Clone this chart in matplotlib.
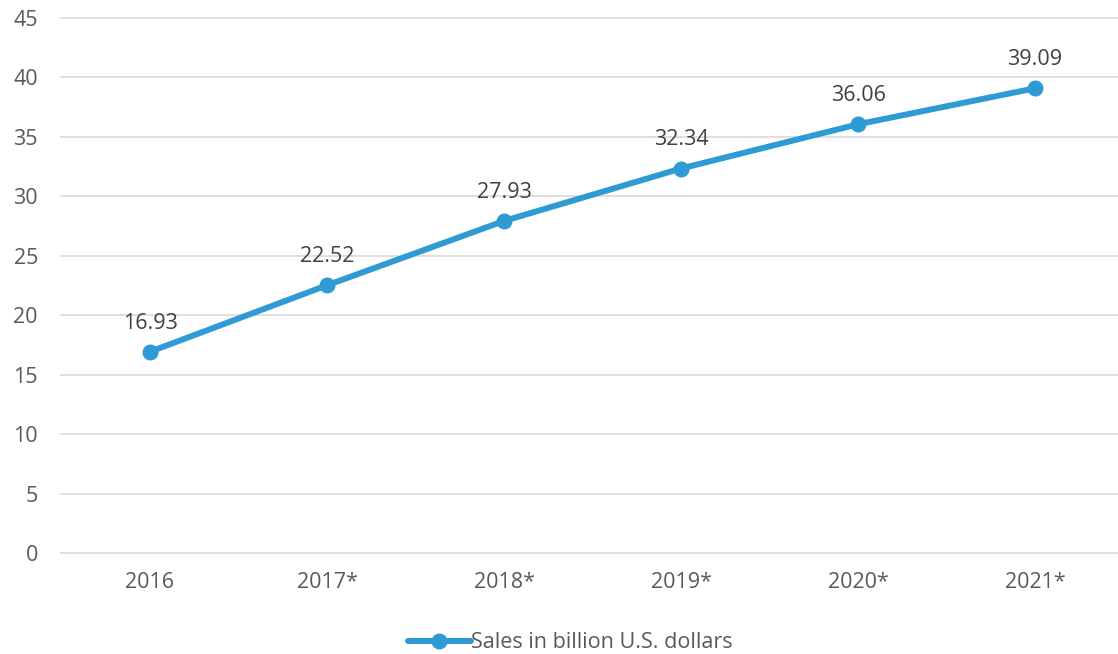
import matplotlib.pyplot as plt

years = ['2016', '2017*', '2018*', '2019*', '2020*', '2021*']
sales = [16.93, 22.52, 27.93, 32.34, 36.06, 39.09]
y_ticks = [0, 5, 10, 15, 20, 25, 30, 35, 40, 45]

plt.rcParams['font.family'] = ['Open Sans', 'DejaVu Sans']
text_color = '#595959'
label_color = '#404040'
line_color = '#2E9BD4'

fig = plt.figure(figsize=(11.18, 6.54), dpi=100)
ax = fig.add_axes([0.055, 0.1544, 0.95, 0.8181])

x = range(len(years))
ax.plot(x, sales, color=line_color, lw=4.3, marker='o', ms=10.5,
        label='Sales in billion U.S. dollars', solid_capstyle='round')

for xi, v in zip(x, sales):
    ax.annotate(f'{v:.2f}', (xi, v), xytext=(0, 13), textcoords='offset points',
                ha='center', va='bottom', fontsize=15.5, color=label_color)

ax.set_xlim(-0.5, len(years) - 0.5)
ax.set_ylim(0, 45)
ax.set_yticks(y_ticks)
ax.set_xticks(list(x))
ax.set_xticklabels(years)
ax.grid(axis='y', color='#d9d9d9', lw=1.2)
for gl in ax.get_ygridlines():
    gl.set_clip_on(False)
ax.set_axisbelow(True)
for s in ax.spines.values():
    s.set_visible(False)
ax.tick_params(length=0, labelsize=15.5, labelcolor=text_color)
ax.tick_params(axis='x', pad=14)
ax.tick_params(axis='y', pad=17)

leg = fig.legend(loc='lower center', bbox_to_anchor=(0.51, -0.012), frameon=False,
                 fontsize=15.5, labelcolor=text_color, handlelength=2.9,
                 handletextpad=0.0, borderaxespad=0)

fig.savefig('out.png', dpi=100)
